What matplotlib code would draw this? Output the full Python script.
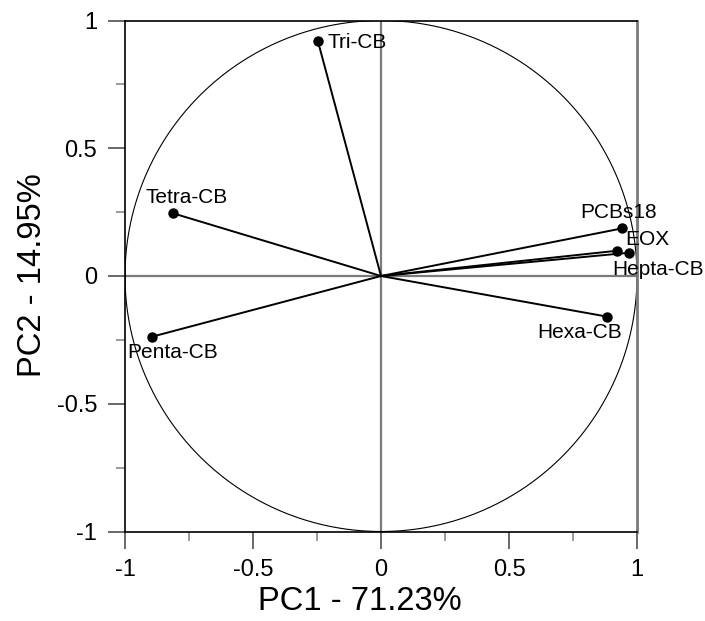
import numpy as np
import matplotlib
matplotlib.use("Agg")
import matplotlib.pyplot as plt
from matplotlib.ticker import MultipleLocator

plt.rcParams['font.family'] = ['Liberation Sans', 'DejaVu Sans']

names = ["Tri-CB", "Tetra-CB", "Penta-CB", "Hexa-CB", "PCBs18", "EOX", "Hepta-CB"]
pc1 = [-0.247, -0.811, -0.896, 0.883, 0.940, 0.923, 0.969]
pc2 = [0.921, 0.245, -0.238, -0.159, 0.186, 0.099, 0.091]
# label offsets in pixels (dx, dy) relative to point, and alignment
label_offsets = [(10, -2), (-28, 16), (-24, -16), (15, -16), (-41, 16), (8, 11), (-17, -17)]
label_ha = ['left', 'left', 'left', 'right', 'left', 'left', 'left']

xticks = [-1, -0.5, 0, 0.5, 1]
xticklabels = ["-1", "-0.5", "0", "0.5", "1"]
yticks = [-1, -0.5, 0, 0.5, 1]
yticklabels = ["-1", "-0.5", "0", "0.5", "1"]

fig = plt.figure(figsize=(7.05, 6.21), dpi=100)
ax = fig.add_axes([125/705, 1-531.5/621, 512/705, 511/621])
ax.set_xlim(-1, 1)
ax.set_ylim(-1, 1)

# zero lines
ax.axhline(0, color='#7a7a7a', lw=1.6, zorder=1)
ax.axvline(0, color='#7a7a7a', lw=1.6, zorder=1)

# unit circle
t = np.linspace(0, 2*np.pi, 721)
ax.plot(np.cos(t), np.sin(t), color='black', lw=0.8, zorder=2)

for n, x, y, (dx, dy), ha in zip(names, pc1, pc2, label_offsets, label_ha):
    ax.plot([0, x], [0, y], color='black', lw=1.4, zorder=3)
    ax.plot([x], [y], 'o', color='black', ms=6.5, zorder=4)
    ax.annotate(n, (x, y), xytext=(dx*0.72, dy*0.72), textcoords='offset points',
                fontsize=15, ha=ha, va='center', zorder=5)

ax.set_xticks(xticks)
ax.set_xticklabels(xticklabels)
ax.set_yticks(yticks)
ax.set_yticklabels(yticklabels)
ax.xaxis.set_minor_locator(MultipleLocator(0.25))
ax.yaxis.set_minor_locator(MultipleLocator(0.25))
ax.tick_params(which='major', direction='out', length=12, width=1.2, color='#505050',
               labelsize=17, pad=8)
ax.tick_params(which='minor', direction='out', length=6.5, width=1.2, color='#8a8a8a')

for s in ['left', 'bottom', 'top']:
    ax.spines[s].set_color('black')
    ax.spines[s].set_linewidth(1.2)
ax.spines['right'].set_color('#7a7a7a')
ax.spines['right'].set_linewidth(2.0)

fig.text(360/705, 1-601/621, "PC1 - 71.23%", fontsize=23.5, ha='center', va='center')
fig.text(33/705, 1-275/621, "PC2 - 14.95%", fontsize=23.5, ha='center', va='center', rotation=90)

fig.savefig("out.png", dpi=100)
